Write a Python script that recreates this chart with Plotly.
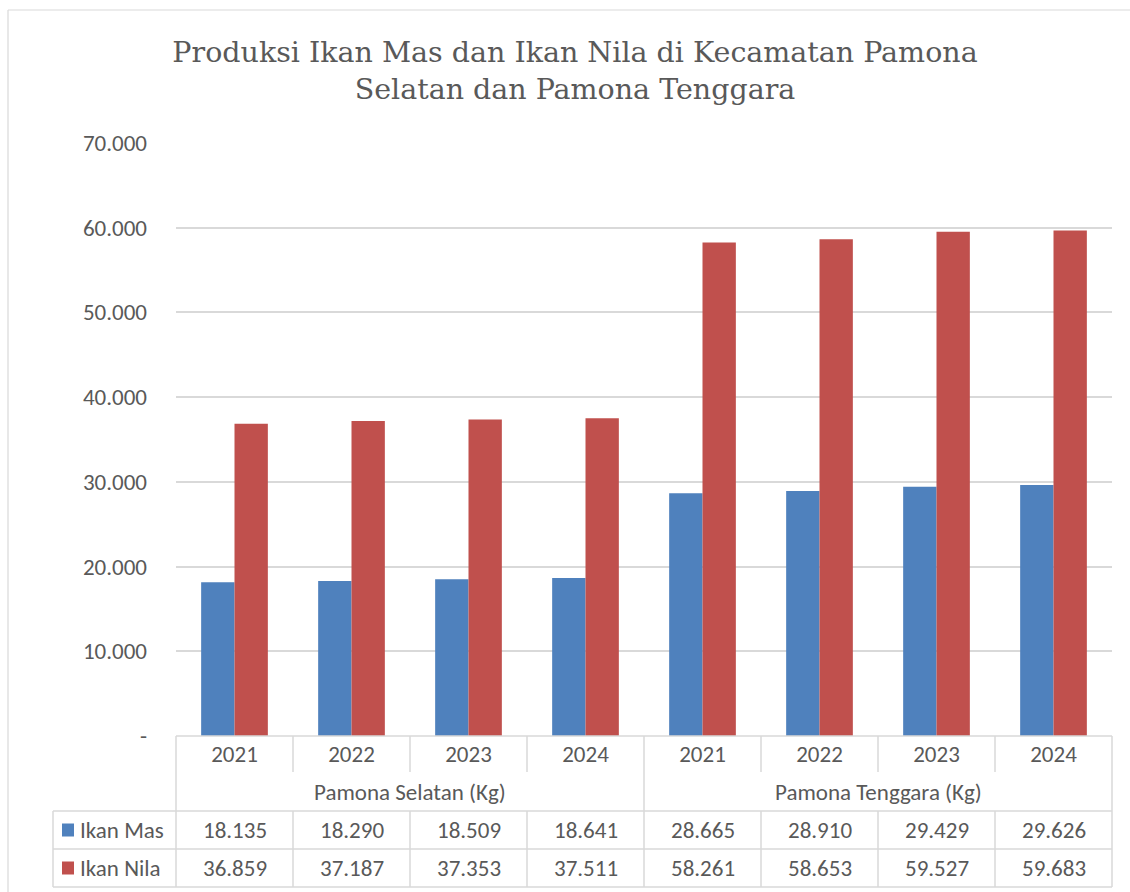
import plotly.graph_objects as go

# ---------------- data ----------------
years = ["2021", "2022", "2023", "2024", "2021", "2022", "2023", "2024"]
regions = ["Pamona Selatan (Kg)", "Pamona Tenggara (Kg)"]
ikan_mas = [18135, 18290, 18509, 18641, 28665, 28910, 29429, 29626]
ikan_nila = [36859, 37187, 37353, 37511, 58261, 58653, 59527, 59683]
series_names = ["Ikan Mas", "Ikan Nila"]
y_tickvals = [0, 10000, 20000, 30000, 40000, 50000, 60000, 70000]
y_ticktext = ["-", "10.000", "20.000", "30.000", "40.000", "50.000", "60.000", "70.000"]
title_text = "Produksi Ikan Mas dan Ikan Nila di Kecamatan Pamona<br>Selatan dan Pamona Tenggara"

# ---------------- style ----------------
W, H = 1130, 892
PL, PR, PT, PB = 176, 1112, 143, 736   # plot area in pixels
BLUE, RED = "#4F81BD", "#C0504D"
GRID = "#D9D9D9"
TXT = "#595959"
FONT = "Carlito, Calibri, Lato, sans-serif"
FS = 23

def px_x(px):
    return (px - PL) / (PR - PL)

def px_y(py):
    return (PB - py) / (PB - PT)

x = list(range(len(years)))

fig = go.Figure()
fig.add_bar(x=x, y=ikan_mas, name=series_names[0], marker_color=BLUE, marker_line_width=0)
fig.add_bar(x=x, y=ikan_nila, name=series_names[1], marker_color=RED, marker_line_width=0)

shapes = []
def line(x0, y0, x1, y1, w=1.5, c=GRID):
    shapes.append(dict(type="line", xref="paper", yref="paper",
                       x0=px_x(x0), y0=px_y(y0), x1=px_x(x1), y1=px_y(y1),
                       line=dict(color=c, width=w), layer="above"))

# outer chart border (left and top)
line(8, 10, 8, 900, w=1.2)
line(8, 10, 1140, 10, w=1.2)

n = len(years)
colw = (PR - PL) / n
ROW_YEAR_BOT = 772
ROW1_TOP, ROW2_TOP, ROW_BOT = 811, 849, 887
LEG_LEFT = 53

# top of table (axis line)
line(PL, PB, PR, PB)
# vertical lines in year row
for k in range(n + 1):
    xx = PL + k * colw
    line(xx, PB, xx, ROW_YEAR_BOT)
# verticals through group-label row (edges and group separator)
for k in [0, n // 2, n]:
    xx = PL + k * colw
    line(xx, ROW_YEAR_BOT, xx, ROW1_TOP)
# data rows
for yy in [ROW1_TOP, ROW2_TOP, ROW_BOT]:
    line(LEG_LEFT, yy, PR, yy)
line(LEG_LEFT, ROW1_TOP, LEG_LEFT, ROW_BOT)
for k in range(n + 1):
    xx = PL + k * colw
    line(xx, ROW1_TOP, xx, ROW_BOT)

annotations = []
# group labels
for gi, g in enumerate(regions):
    annotations.append(dict(text=g, xref="x", yref="paper", x=gi * 4 + 1.5,
                            y=px_y(792), showarrow=False,
                            font=dict(family=FONT, size=FS, color=TXT),
                            xanchor="center", yanchor="middle"))

def fmt(v):
    return f"{v:,}".replace(",", ".")

row_centers = [(ROW1_TOP + ROW2_TOP) / 2, (ROW2_TOP + ROW_BOT) / 2]
for vals, yc, name, col in [(ikan_mas, row_centers[0], series_names[0], BLUE),
                            (ikan_nila, row_centers[1], series_names[1], RED)]:
    for i, v in enumerate(vals):
        annotations.append(dict(text=fmt(v), xref="x", yref="paper", x=i, y=px_y(yc),
                                showarrow=False, xanchor="center", yanchor="middle",
                                font=dict(family=FONT, size=FS, color=TXT)))
    annotations.append(dict(text=name, xref="paper", yref="paper", x=px_x(78), y=px_y(yc),
                            showarrow=False, xanchor="left", yanchor="middle",
                            font=dict(family=FONT, size=FS, color=TXT)))
    shapes.append(dict(type="rect", xref="paper", yref="paper",
                       x0=px_x(62), x1=px_x(74), y0=px_y(yc - 6.5), y1=px_y(yc + 6.5),
                       fillcolor=col, line=dict(width=0)))

fig.update_layout(
    width=W, height=H,
    margin=dict(l=PL, r=W - PR, t=PT, b=H - PB, pad=0),
    paper_bgcolor="white", plot_bgcolor="white",
    showlegend=False,
    barmode="group", bargap=0.43, bargroupgap=0,
    title=dict(text=title_text, x=575 / W, xref="container", xanchor="center",
               y=1 - 62 / H, yref="container", yanchor="middle",
               font=dict(family="DejaVu Serif", size=28.5, color=TXT)),
    font=dict(family=FONT, size=FS, color=TXT),
    xaxis=dict(range=[-0.5, n - 0.5], tickvals=x, ticktext=years, showgrid=False,
               zeroline=False, showline=False, ticks="", ticklabelstandoff=2,
               tickfont=dict(family=FONT, size=FS, color=TXT), fixedrange=True),
    yaxis=dict(range=[0, 70000], tickvals=y_tickvals, ticktext=y_ticktext,
               showgrid=True, gridcolor=GRID, gridwidth=1.5, zeroline=False,
               showline=False, ticks="", ticklabelstandoff=28,
               tickfont=dict(family=FONT, size=FS, color=TXT), fixedrange=True),
    shapes=shapes,
    annotations=annotations,
)

fig.write_html("out.html", config={"displayModeBar": False},
               post_script="document.body.style.margin='0px';")
